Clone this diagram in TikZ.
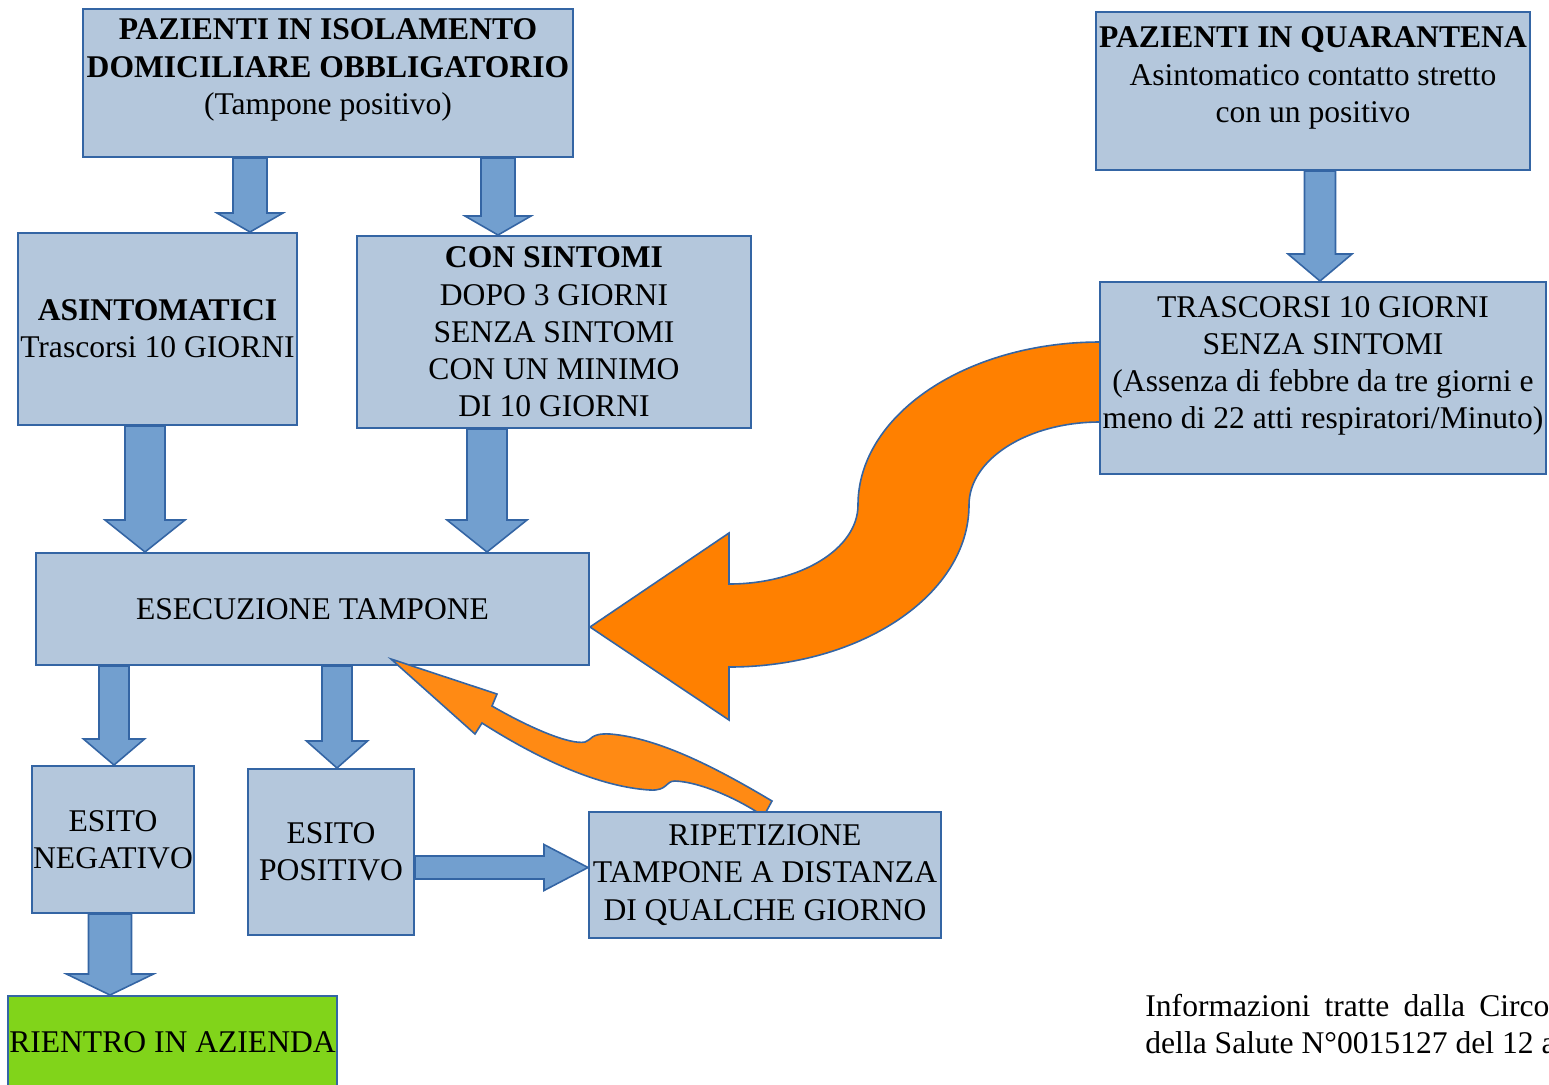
\documentclass[tikz,border=0pt]{standalone}
\usepackage{fontspec}
\setmainfont{Liberation Serif}
\usetikzlibrary{calc}

\definecolor{boxfill}{HTML}{B4C7DC}
\definecolor{boxline}{HTML}{3465A4}
\definecolor{flowfill}{HTML}{729FCF}
\definecolor{okgreen}{HTML}{81D41A}
\definecolor{bigorange}{HTML}{FF8000}
\definecolor{smallorange}{HTML}{FF8A14}

\tikzset{
  bluebox/.style={draw=boxline, fill=boxfill, line width=1pt, inner sep=0pt, align=center},
  greenbox/.style={bluebox, fill=okgreen},
  txt/.style={inner sep=0pt, align=center},
  flow/.style={draw=boxline, fill=flowfill, line width=0.8pt},
  bigarrow/.style={draw=boxline, fill=bigorange, line width=0.8pt},
  smallarrow/.style={draw=boxline, fill=smallorange, line width=0.8pt},
}

\newcommand{\vflow}[6]{%
  \coordinate (fs) at (#1,0 |- #2.south);
  \coordinate (ft) at (#1,0 |- #3.north);
  \filldraw[flow] ($(fs)+(-#4,0)$) -- ($(ft)+(-#4,-#6)$) -- ($(ft)+(-#5,-#6)$) -- (ft)
    -- ($(ft)+(#5,-#6)$) -- ($(ft)+(#4,-#6)$) -- ($(fs)+(#4,0)$) -- cycle;
}
\newcommand{\hflow}[6]{%
  \coordinate (fs) at (#2.east |- 0,#1);
  \coordinate (ft) at (#3.west |- 0,#1);
  \filldraw[flow] ($(fs)+(0,-#4)$) -- ($(ft)+(-#6,-#4)$) -- ($(ft)+(-#6,-#5)$) -- (ft)
    -- ($(ft)+(-#6,#5)$) -- ($(ft)+(-#6,#4)$) -- ($(fs)+(0,#4)$) -- cycle;
}

\begin{document}
\begin{tikzpicture}[x=0.5pt, y=-0.5pt, every node/.style={font=\fontsize{15.8pt}{18.6pt}\selectfont}]
	\useasboundingbox (0,0) rectangle (1549,1084);
	\clip (0,0) rectangle (1549,1084);

	\filldraw[bigarrow] (1100,342) .. controls (966,342) and (858,415) .. (858,505)
		.. controls (858,549) and (800,584) .. (729,584) -- (729,533) -- (590,627) -- (729,720) -- (729,667)
		.. controls (862,667) and (969,594) .. (969,505) .. controls (969,459) and (1028,422) .. (1100,422) -- cycle;

	\node[bluebox, minimum width=245pt, minimum height=74pt] (iso) at (328,83) {};
	\node[txt] (iso-t) at (328,70) {\textbf{PAZIENTI IN ISOLAMENTO}\\\textbf{DOMICILIARE OBBLIGATORIO}\\(Tampone positivo)};
	\node[bluebox, minimum width=217pt, minimum height=79pt] (quar) at (1313,91) {};
	\node[txt] (quar-t) at (1313,78) {\textbf{PAZIENTI IN QUARANTENA}\\Asintomatico contatto stretto\\con un positivo};
	\node[bluebox, minimum width=139.5pt, minimum height=96pt] (asint) at (157.5,329) {\textbf{ASINTOMATICI}\\Trascorsi 10 GIORNI};
	\node[bluebox, minimum width=197pt, minimum height=96pt] (sint) at (554,332) {\textbf{CON SINTOMI}\\DOPO 3 GIORNI\\SENZA SINTOMI\\CON UN MINIMO\\DI 10 GIORNI};
	\node[bluebox, minimum width=223pt, minimum height=96pt] (trasc) at (1323,378) {};
	\node[txt] (trasc-t) at (1323,366) {TRASCORSI 10 GIORNI\\SENZA SINTOMI\\(Assenza di febbre da tre giorni e\\meno di 22 atti respiratori/Minuto)};
	\node[bluebox, minimum width=276.5pt, minimum height=56pt] (esec) at (312.5,609) {ESECUZIONE TAMPONE};
	\node[bluebox, minimum width=81pt, minimum height=73.5pt] (neg) at (113,839.5) {ESITO\\NEGATIVO};
	\node[bluebox, minimum width=83pt, minimum height=83pt] (pos) at (331,852) {ESITO\\POSITIVO};
	\node[bluebox, minimum width=176pt, minimum height=63pt] (rip) at (765,875) {RIPETIZIONE\\TAMPONE A DISTANZA\\DI QUALCHE GIORNO};
	\node[greenbox, minimum width=164.5pt, minimum height=46pt] (rientro) at (172.5,1042) {RIENTRO IN AZIENDA};

	\vflow{250}{iso}{asint}{17}{33}{19}
	\vflow{498}{iso}{sint}{17}{33}{19}
	\vflow{145}{asint}{esec}{20}{40}{32}
	\vflow{487}{sint}{esec}{20}{40}{32}
	\vflow{1320}{quar}{trasc}{15.5}{32}{27}
	\vflow{114}{esec}{neg}{15}{30.5}{26}
	\vflow{337}{esec}{pos}{15}{30.5}{27}
	\vflow{110}{neg}{rientro}{21.5}{43.5}{21}
	\hflow{867.5}{pos}{rip}{11.5}{23}{44}

	\filldraw[smallarrow] (492,706) .. controls (530,728) and (570,745) .. (585,742)
		.. controls (592,740) and (590,733) .. (610,734) .. controls (660,738) and (720,770) .. (772,801)
		-- (766,812) -- (757,812) .. controls (735,798) and (700,782) .. (675,781)
		.. controls (665,781) and (668,791) .. (650,790) .. controls (600,787) and (540,760) .. (482,723)
		-- (475,734) -- (391,659) -- (497,694) -- cycle;

	\node[txt, anchor=west, align=left] (note) at (1145,1024) {\makebox[202pt][s]{Informazioni tratte dalla Circo}\\della Salute N°0015127 del 12 a};

\end{tikzpicture}
\end{document}
